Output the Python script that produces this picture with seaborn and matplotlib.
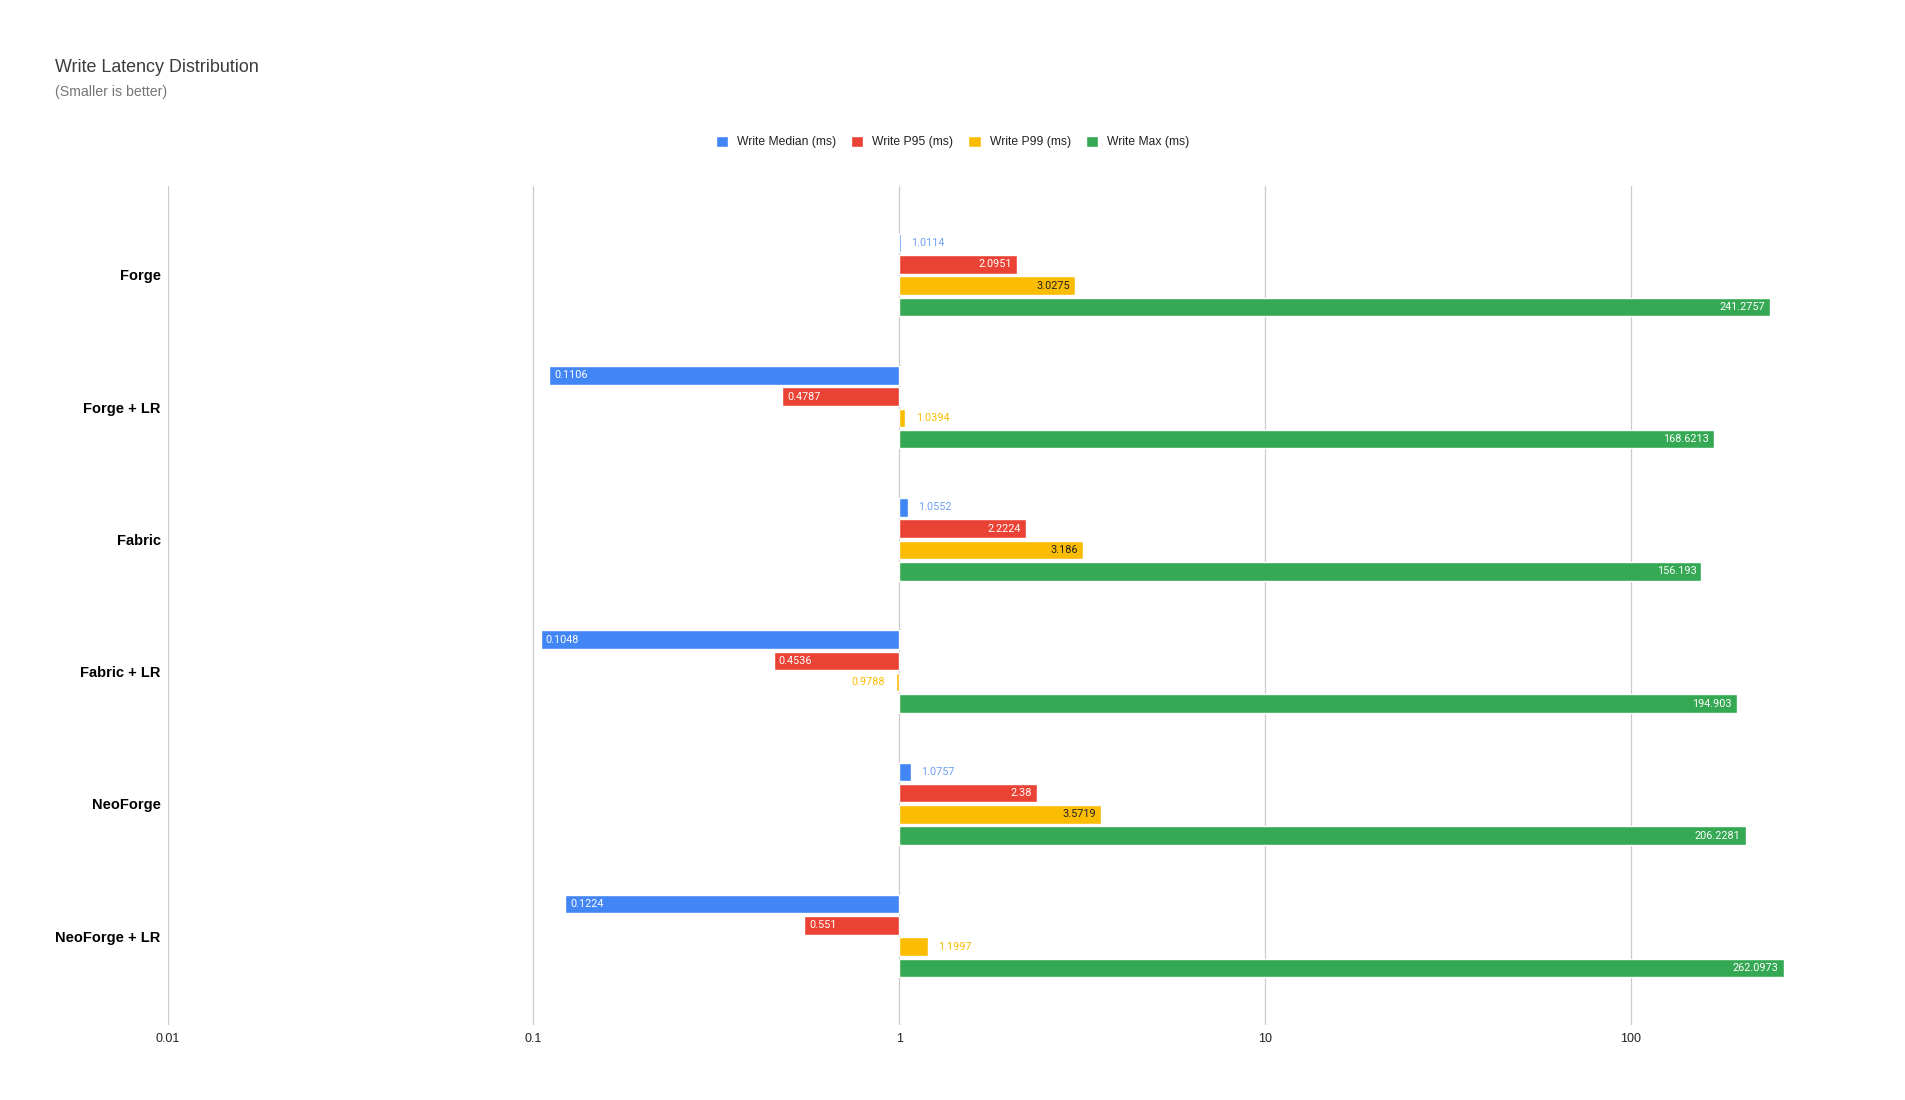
import numpy as np
import pandas as pd
import seaborn as sns
import matplotlib.pyplot as plt
from matplotlib.ticker import FixedLocator, FuncFormatter

# Chart data
platforms = ["Forge", "Forge + LR", "Fabric", "Fabric + LR", "NeoForge", "NeoForge + LR"]
metrics = ["Write Median (ms)", "Write P95 (ms)", "Write P99 (ms)", "Write Max (ms)"]
write_median = [1.0114, 0.1106, 1.0552, 0.1048, 1.0757, 0.1224]
write_p95 = [2.0951, 0.4787, 2.2224, 0.4536, 2.38, 0.551]
write_p99 = [3.0275, 1.0394, 3.186, 0.9788, 3.5719, 1.1997]
write_max = [241.2757, 168.6213, 156.193, 194.903, 206.2281, 262.0973]
tick_values = [0.01, 0.1, 1, 10, 100]
colors = ["#4285F4", "#EA4335", "#FBBC04", "#34A853"]

series = [write_median, write_p95, write_p99, write_max]
rows = []
for metric, vals in zip(metrics, series):
    for plat, v in zip(platforms, vals):
        rows.append({"platform": plat, "metric": metric, "value": v})
df = pd.DataFrame(rows)
# bars start at 1 on the log axis, so draw them in log10 space
df["log_value"] = np.log10(df["value"])

sns.set_theme(style="white")
plt.rcParams["font.family"] = ["Liberation Sans", "DejaVu Sans"]

fig = plt.figure(figsize=(19.05, 11), dpi=100)
ax = fig.add_axes([0.088, 0.0682, 0.8538, 0.7627])

sns.barplot(data=df, x="log_value", y="platform", hue="metric", order=platforms,
            hue_order=metrics, palette=colors, orient="y", width=0.644, gap=0.13,
            saturation=1, errorbar=None, ax=ax)

ax.set_xlim(-2, np.log10(280))
ax.set_ylim(5.673, -0.673)
ax.xaxis.set_major_locator(FixedLocator(np.log10(tick_values)))
ax.xaxis.set_major_formatter(FuncFormatter(lambda x, p: f"{10 ** x:g}"))
ax.xaxis.grid(True, color="#cccccc", linewidth=0.9)
ax.yaxis.grid(False)
ax.set_axisbelow(True)
for s in ax.spines.values():
    s.set_visible(False)
ax.tick_params(axis="x", length=0, pad=6, labelsize=9, labelcolor="#222222")
ax.tick_params(axis="y", length=0, pad=5, labelsize=10.5, labelcolor="#000000")
for lbl in ax.get_yticklabels():
    lbl.set_fontweight("bold")
ax.set_xlabel("")
ax.set_ylabel("")

# value labels
for cont, vals, col in zip(ax.containers, series, colors):
    for patch, v in zip(cont.patches, vals):
        lv = np.log10(v)
        yc = patch.get_y() + patch.get_height() / 2
        txt = str(v)
        if abs(lv) < 0.17:
            # too short, label outside in bar color
            dx = 7.5 if lv >= 0 else -7.5
            ha = "left" if lv >= 0 else "right"
            tcol = "#6fa1f6" if col == "#4285F4" else col
        else:
            dx = -3.6 if lv >= 0 else 3.6
            ha = "right" if lv >= 0 else "left"
            tcol = "#222222" if col == "#FBBC04" else "white"
        ax.annotate(txt, xy=(lv, yc), xytext=(dx, 0), textcoords="offset points",
                    ha=ha, va="center", fontsize=7.8, color=tcol, family=["Roboto", "DejaVu Sans"])

# legend
handles, labels = ax.get_legend_handles_labels()
ax.get_legend().remove()
fig.legend(handles, labels, loc="center", bbox_to_anchor=(0.5, 1 - 142 / 1100), ncol=4,
           frameon=False, fontsize=8.7, handlelength=1.0, handleheight=1.0,
           handletextpad=0.75, columnspacing=1.25, labelcolor="#222222")

fig.text(55 / 1905, 1 - 67 / 1100, "Write Latency Distribution", fontsize=12.9,
         color="#3c3c3c", ha="left", va="center")
fig.text(55 / 1905, 1 - 92 / 1100, "(Smaller is better)", fontsize=10.2,
         color="#757575", ha="left", va="center")

fig.savefig("out.png", dpi=100, facecolor="white")
